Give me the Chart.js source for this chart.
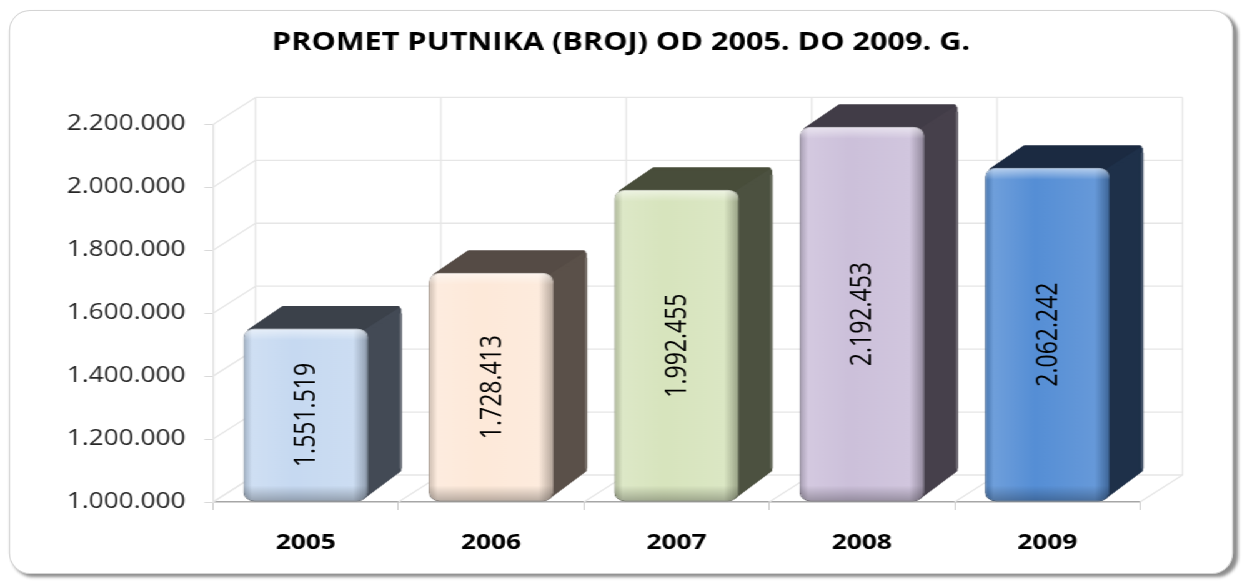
<!DOCTYPE html>
<html>
<head>
<meta charset="utf-8">
<title>Promet putnika</title>
<script src="https://cdn.jsdelivr.net/npm/chart.js@4.4.0/dist/chart.umd.min.js"></script>
<style>
  html, body { margin: 0; padding: 0; background: #fff; overflow: hidden; }
  /* the original picture is stretched sideways, so the whole chart is drawn narrow and widened */
  #stretch { position: absolute; left: 0; top: 0; width: 994px; height: 581px; transform: scaleX(1.2495); transform-origin: 0 0; }
  #frame { position: absolute; left: 7px; top: 10px; width: 978px; height: 562px; border: 1px solid #d4d4d4; border-radius: 17px / 21px; box-shadow: 3px 3px 3px rgba(0,0,0,0.45); background: #fff; }
  #box { position: absolute; left: 0; top: 0; width: 994px; height: 581px; }
</style>
</head>
<body>
<div id="stretch">
  <div id="frame"></div>
  <div id="box"><canvas id="passengerChart"></canvas></div>
</div>
<script>
// Data of the chart
const years = ["2005", "2006", "2007", "2008", "2009"];
const passengers = [1551519, 1728413, 1992455, 2192453, 2062242];
const yTicks = [1000000, 1200000, 1400000, 1600000, 1800000, 2000000, 2200000];
const titleText = "PROMET PUTNIKA (BROJ) OD 2005. DO 2009. G.";

// Colours of the bar faces
const frontColors = ["#c6d9f1", "#fde9d9", "#d7e4bd", "#ccc0da", "#558ed5"];
const topColors = ["#3b414a", "#554b45", "#484d3a", "#413c47", "#1b2a41"];
const sideColors = ["#434a55", "#5a5049", "#4c5140", "#46404b", "#1e3049"];

const barPct = 0.674;
const wall = { dx: 34, dy: -27 };
const depth = { dx: 27, dy: -23 };

// 1551519 -> 1.551.519
function dots(v) {
  return String(v).replace(/\B(?=(\d{3})+(?!\d))/g, ".");
}

// lighten (amt > 0) or darken (amt < 0) a hex colour
function shade(hex, amt) {
  const n = parseInt(hex.slice(1), 16);
  const t = amt < 0 ? 0 : 255;
  const p = Math.abs(amt);
  const c = [n >> 16, (n >> 8) & 255, n & 255].map(v => Math.round(v + (t - v) * p));
  return `rgb(${c[0]},${c[1]},${c[2]})`;
}

function line(ctx, x1, y1, x2, y2) {
  ctx.beginPath();
  ctx.moveTo(x1, y1);
  ctx.lineTo(x2, y2);
  ctx.stroke();
}

function poly(ctx, pts, color) {
  ctx.beginPath();
  ctx.moveTo(pts[0][0], pts[0][1]);
  for (let i = 1; i < pts.length; i++) ctx.lineTo(pts[i][0], pts[i][1]);
  ctx.closePath();
  ctx.fillStyle = color;
  ctx.strokeStyle = color;
  ctx.lineJoin = "round";
  ctx.lineWidth = 3;
  ctx.fill();
  ctx.stroke();
}

// Walls, floor and the back/top faces of the bars
const box3d = {
  id: "box3d",
  beforeDatasetsDraw(chart) {
    const { ctx, chartArea: a, scales: { x, y } } = chart;
    const step = x.getPixelForValue(1) - x.getPixelForValue(0);
    ctx.save();
    ctx.strokeStyle = "#e6e6e6";
    ctx.lineWidth = 1.3;

    // back wall lines and side wall diagonals
    yTicks.forEach(v => {
      const py = y.getPixelForValue(v);
      line(ctx, a.left + wall.dx, py + wall.dy, a.right + wall.dx, py + wall.dy);
      line(ctx, a.left, py, a.left + wall.dx, py + wall.dy);
    });

    // back wall verticals and floor diagonals at category borders
    for (let i = 0; i <= years.length; i++) {
      const px = x.getPixelForValue(0) - step / 2 + step * i;
      line(ctx, px + wall.dx, a.top + wall.dy, px + wall.dx, a.bottom + wall.dy);
      line(ctx, px, a.bottom, px + wall.dx, a.bottom + wall.dy);
    }

    // 3D sides of the bars
    const meta = chart.getDatasetMeta(0);
    meta.data.forEach((bar, i) => {
      const l = bar.x - bar.width / 2;
      const r = bar.x + bar.width / 2;
      const t = bar.y;
      const b = Math.min(bar.base, a.bottom);
      poly(ctx, [[l + 5, t + 2], [l + 5 + depth.dx, t + depth.dy + 2], [r + depth.dx - 3, t + depth.dy + 2], [r - 3, t + 3]], topColors[i]);
      poly(ctx, [[r - 4, t + 4], [r + depth.dx - 2, t + depth.dy + 4], [r + depth.dx - 2, b + depth.dy - 8], [r - 4, b - 4]], sideColors[i]);
      // light rim on the back edge
      ctx.strokeStyle = shade(sideColors[i], 0.18);
      ctx.lineWidth = 2;
      line(ctx, r + depth.dx - 1, t + depth.dy + 8, r + depth.dx - 1, b + depth.dy - 10);
    });
    ctx.restore();
  },
  afterDatasetsDraw(chart) {
    const { ctx, chartArea: a } = chart;
    const meta = chart.getDatasetMeta(0);
    ctx.save();
    meta.data.forEach((bar, i) => {
      const l = bar.x - bar.width / 2;
      const t = bar.y;
      const h = Math.min(bar.base, a.bottom) - bar.y;
      // soft bevel: light top edge, dark bottom edge
      ctx.save();
      ctx.beginPath();
      ctx.roundRect(l, t, bar.width, h, 9);
      ctx.clip();
      const vg = ctx.createLinearGradient(0, t, 0, t + h);
      vg.addColorStop(0, "rgba(255,255,255,0.55)");
      vg.addColorStop(Math.min(0.45, 12 / h), "rgba(255,255,255,0)");
      vg.addColorStop(Math.max(0.55, 1 - 16 / h), "rgba(0,0,0,0)");
      vg.addColorStop(1, "rgba(0,0,0,0.28)");
      ctx.fillStyle = vg;
      ctx.fillRect(l, t, bar.width, h);
      ctx.restore();

      // value label turned upwards
      ctx.save();
      ctx.translate(bar.x + 1, t + h / 2);
      ctx.rotate(-Math.PI / 2);
      ctx.font = "500 23px 'Open Sans'";
      ctx.fillStyle = "#000";
      ctx.textAlign = "center";
      ctx.textBaseline = "middle";
      ctx.fillText(dots(passengers[i]), 0, 0);
      ctx.restore();
    });
    ctx.restore();
  }
};

new Chart(document.getElementById("passengerChart"), {
  type: "bar",
  data: {
    labels: years,
    datasets: [
      {
        data: passengers,
        base: yTicks[0],
        barPercentage: barPct,
        categoryPercentage: 1,
        borderRadius: 9,
        borderSkipped: false,
        borderWidth: 1,
        borderColor: ctx => shade(frontColors[ctx.dataIndex || 0], -0.35),
        backgroundColor: ctx => {
          const chart = ctx.chart;
          const x = chart.scales.x;
          const i = ctx.dataIndex || 0;
          if (!x || ctx.type !== "data") return frontColors[i];
          const c = x.getPixelForValue(i);
          const half = (x.width / years.length) * barPct / 2;
          if (!isFinite(c) || !isFinite(half) || half <= 0) return frontColors[i];
          const g = chart.ctx.createLinearGradient(c - half, 0, c + half, 0);
          g.addColorStop(0, shade(frontColors[i], -0.2));
          g.addColorStop(0.07, shade(frontColors[i], 0.15));
          g.addColorStop(0.4, frontColors[i]);
          g.addColorStop(0.88, shade(frontColors[i], 0.1));
          g.addColorStop(1, shade(frontColors[i], -0.3));
          return g;
        }
      }
    ]
  },
  options: {
    responsive: true,
    maintainAspectRatio: false,
    animation: false,
    devicePixelRatio: 1,
    layout: { padding: 0 },
    plugins: {
      legend: { display: false },
      tooltip: { enabled: false },
      title: {
        display: true,
        text: titleText,
        color: "#000",
        font: { family: "'Open Sans'", size: 24.5, weight: "bold" },
        padding: { top: 28, bottom: 67 }
      }
    },
    scales: {
      x: {
        grid: { display: true, drawOnChartArea: false, drawTicks: true, tickLength: 8, color: "#cccccc", offset: true },
        border: { display: true, color: "#a6a6a6", width: 1.5 },
        ticks: { color: "#000", padding: 20, font: { family: "'Open Sans'", size: 21, weight: "bold" } },
        afterFit: scale => { scale.height = 79; }
      },
      y: {
        min: yTicks[0],
        max: yTicks[yTicks.length - 1],
        grid: { display: true, drawOnChartArea: false, drawTicks: true, tickLength: 7, color: "#d9d9d9" },
        border: { display: true, color: "#e2e2e2", width: 1.3 },
        ticks: {
          stepSize: yTicks[1] - yTicks[0],
          color: "#262626",
          padding: 15,
          font: { family: "'Open Sans'", size: 21 },
          callback: v => dots(v)
        },
        afterFit: scale => { scale.width = 170.5; }
      },
      // empty right axis that only keeps room for the 3D depth
      depthRoom: {
        position: "right",
        grid: { display: false },
        border: { display: false },
        ticks: { display: false },
        afterFit: scale => { scale.width = 81.6; }
      }
    }
  },
  plugins: [box3d]
});
</script>
</body>
</html>
